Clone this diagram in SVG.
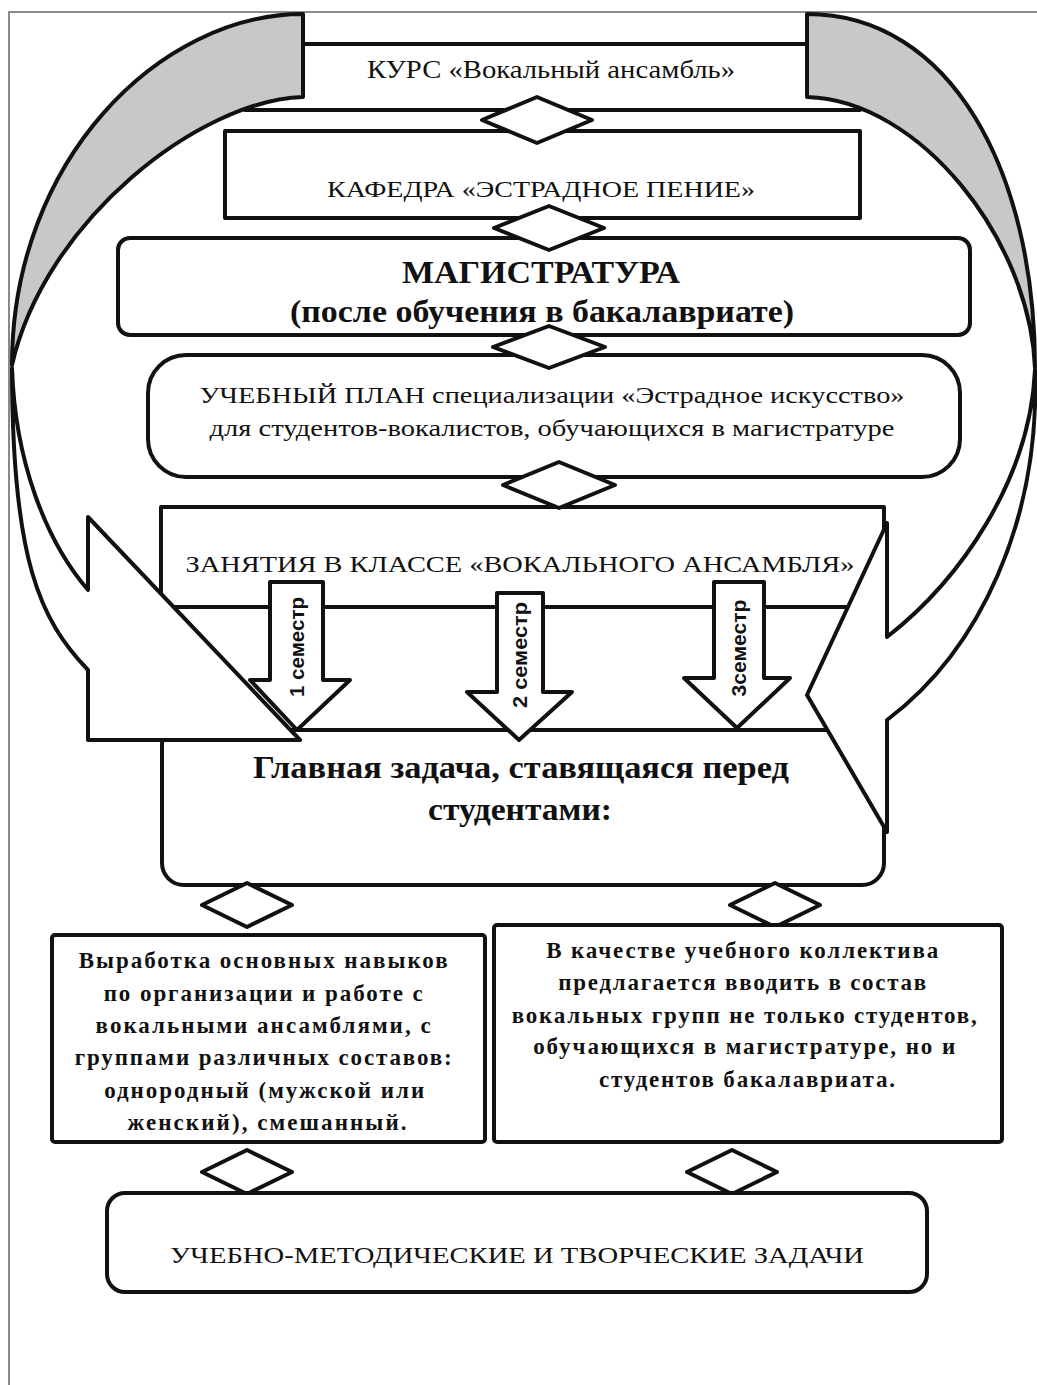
<svg xmlns="http://www.w3.org/2000/svg" width="1037" height="1385" viewBox="0 0 1037 1385">
<style>
.s{fill:#fff;stroke:#111;stroke-width:4;stroke-linejoin:round}
.g{fill:#c8c8c8;stroke:#111;stroke-width:4;stroke-linejoin:round}
.t{font-family:"Liberation Serif","Times New Roman",serif;fill:#111;text-anchor:middle}
.b{font-weight:bold}
.sem{font-family:"Liberation Sans",Arial,sans-serif;font-weight:bold;font-size:20px;fill:#111;text-anchor:middle}
</style>
<rect width="1037" height="1385" fill="#fff"/>
<path d="M9,1385 V12 H1037" fill="none" stroke="#8a8a8a" stroke-width="2"/>

<g id="kurs"><rect class="s" x="245" y="44" width="615" height="66"/>
<text class="t" x="551" y="78" font-size="25" textLength="368" lengthAdjust="spacingAndGlyphs">КУРС «Вокальный ансамбль»</text></g>
<g id="kafedra"><rect class="s" x="225" y="131" width="635" height="87"/>
<text class="t" x="541" y="197" font-size="24" textLength="428" lengthAdjust="spacingAndGlyphs">КАФЕДРА «ЭСТРАДНОЕ ПЕНИЕ»</text></g>
<g id="magistratura"><rect class="s" x="118" y="238" width="852" height="97" rx="12"/>
<text class="t b" x="541" y="283" font-size="31" textLength="278" lengthAdjust="spacingAndGlyphs">МАГИСТРАТУРА</text>
<text class="t b" x="542" y="322" font-size="31" textLength="504" lengthAdjust="spacingAndGlyphs">(после обучения в бакалавриате)</text></g>
<g id="plan"><rect class="s" x="148" y="355" width="812" height="122" rx="38"/>
<text class="t" x="552" y="403" font-size="23" textLength="705" lengthAdjust="spacingAndGlyphs">УЧЕБНЫЙ ПЛАН специализации «Эстрадное искусство»</text>
<text class="t" x="552" y="436" font-size="23" textLength="685" lengthAdjust="spacingAndGlyphs">для студентов-вокалистов, обучающихся в магистратуре</text></g>

<g id="glavnaya"><rect class="s" x="162" y="722" width="722" height="163" rx="22"/>
<text class="t b" x="521" y="778" font-size="31" textLength="536" lengthAdjust="spacingAndGlyphs">Главная задача, ставящаяся перед</text>
<text class="t b" x="520" y="820" font-size="31" textLength="184" lengthAdjust="spacingAndGlyphs">студентами:</text></g>
<g id="zanyatiya"><rect class="s" x="161" y="607" width="723" height="123"/>
<rect class="s" x="161" y="507" width="723" height="100"/>
<text class="t" x="520" y="572" font-size="23" textLength="669" lengthAdjust="spacingAndGlyphs">ЗАНЯТИЯ В КЛАССЕ «ВОКАЛЬНОГО АНСАМБЛЯ»</text></g>

<g id="sem1"><path class="s" d="M270,582 H323 V680 H350 L297,730 L250,680 H270 Z"/>
<text class="sem" transform="translate(304,647) rotate(-90)" textLength="100" lengthAdjust="spacingAndGlyphs">1 семестр</text></g>
<g id="sem2"><path class="s" d="M497,593 H543 V692 H572 L519,740 L467,692 H497 Z"/>
<text class="sem" transform="translate(527,655) rotate(-90)" textLength="106" lengthAdjust="spacingAndGlyphs">2 семестр</text></g>
<g id="sem3"><path class="s" d="M714,582 H764 V678 H790 L737,728 L684,678 H714 Z"/>
<text class="sem" transform="translate(746,648) rotate(-90)" textLength="97" lengthAdjust="spacingAndGlyphs">3семестр</text></g>

<g id="arrow-left">
<path class="g" d="M303,14 C160,14 12,160 12,365 C45,220 200,100 303,97 Z"/>
<path class="s" d="M12,368 C15,460 45,540 88,590 L88,517 L300,740 L88,740 L88,670 C40,620 12,560 12,368 Z"/>
</g>
<g id="arrow-right">
<path class="g" d="M807,14 C950,14 1035,170 1035,368 C1030,240 920,100 807,97 Z"/>
<path class="s" d="M1035,370 C1030,480 960,580 887,637 L887,523 L807,695 L887,832 L887,720 C980,650 1040,520 1035,370 Z"/>
</g>

<g id="connectors">
<path class="s" d="M537,97 L592,120 L537,143 L482,120 Z"/>
<path class="s" d="M549,206 L604,228 L549,250 L494,228 Z"/>
<path class="s" d="M549,326 L605,347 L549,368 L493,347 Z"/>
<path class="s" d="M559,462 L615,485 L559,508 L503,485 Z"/>
<path class="s" d="M247,883 L292,905 L247,927 L202,905 Z"/>
<path class="s" d="M775,883 L820,905 L775,927 L730,905 Z"/>
<path class="s" d="M247,1150 L292,1172 L247,1194 L202,1172 Z"/>
<path class="s" d="M732,1150 L777,1172 L732,1194 L687,1172 Z"/>
</g>

<g id="box-left"><rect class="s" x="52" y="935" width="433" height="207" rx="3"/>
<text class="t b" font-size="23" lengthAdjust="spacingAndGlyphs">
<tspan x="267" y="968" textLength="369">Выработка основных навыков</tspan>
<tspan x="267" y="1001" textLength="319">по организации и работе с</tspan>
<tspan x="267" y="1033" textLength="335">вокальными ансамблями, с</tspan>
<tspan x="267" y="1065" textLength="377">группами различных составов:</tspan>
<tspan x="268" y="1098" textLength="320">однородный (мужской или</tspan>
<tspan x="267" y="1130" textLength="279">женский), смешанный.</tspan>
</text></g>
<g id="box-right"><rect class="s" x="494" y="925" width="508" height="217" rx="3"/>
<text class="t b" font-size="23" lengthAdjust="spacingAndGlyphs">
<tspan x="746" y="958" textLength="392">В качестве учебного коллектива</tspan>
<tspan x="746" y="990" textLength="368">предлагается вводить в состав</tspan>
<tspan x="748" y="1023" textLength="465">вокальных групп не только студентов,</tspan>
<tspan x="748" y="1054" textLength="422">обучающихся в магистратуре, но и</tspan>
<tspan x="747" y="1087" textLength="296">студентов бакалавриата.</tspan>
</text></g>
<g id="box-bottom"><rect class="s" x="107" y="1193" width="820" height="99" rx="18"/>
<text class="t" x="517" y="1263" font-size="24" textLength="694" lengthAdjust="spacingAndGlyphs">УЧЕБНО-МЕТОДИЧЕСКИЕ И ТВОРЧЕСКИЕ ЗАДАЧИ</text></g>
</svg>
